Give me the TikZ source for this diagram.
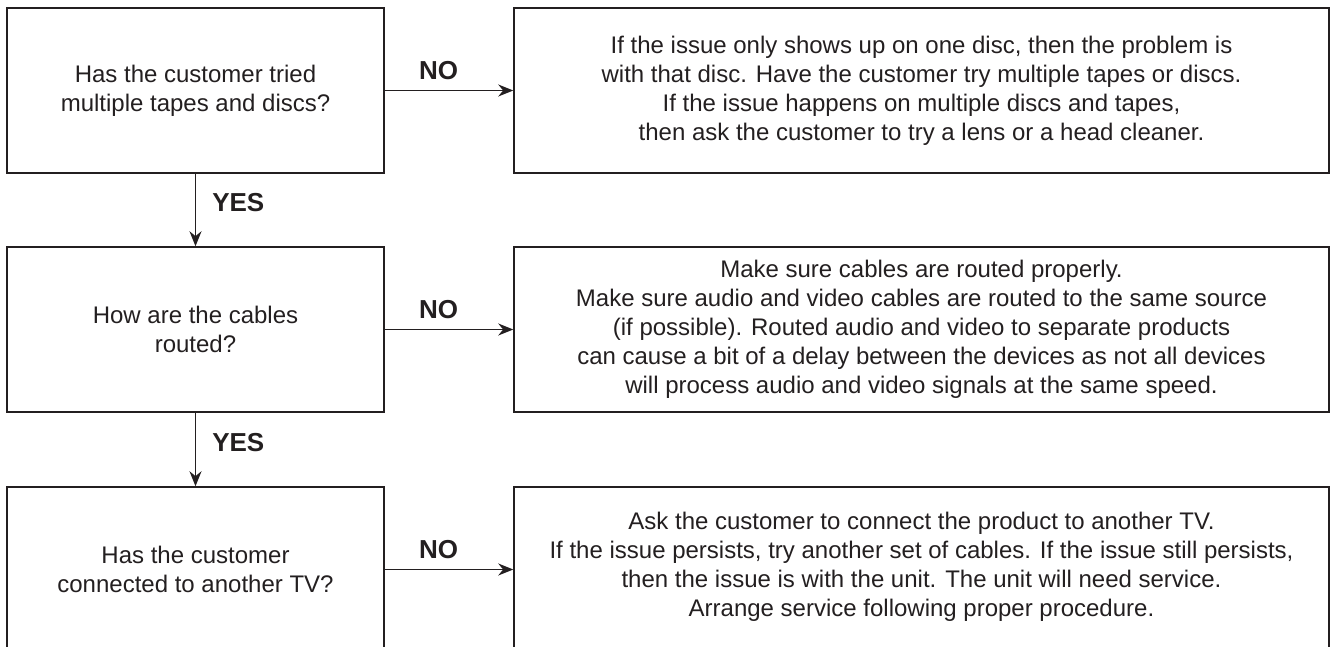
\documentclass[tikz,border=0pt]{standalone}
\usepackage{fontspec}
\setmainfont{Liberation Sans}
\usetikzlibrary{arrows.meta}
\definecolor{ink}{HTML}{231F20}

\begin{document}
\begin{tikzpicture}[x=0.5pt,y=-0.5pt,
	>={Stealth[length=7.5pt,width=6pt]},
	box/.style={draw=ink,line width=0.75pt,text=ink,align=center,minimum height=82.5pt,inner sep=0pt,font=\fontsize{12}{14.5}\selectfont},
	qbox/.style={box,minimum width=188.5pt},
	abox/.style={box,minimum width=407.5pt},
	lbl/.style={text=ink,inner sep=5pt,font=\fontsize{13}{15}\selectfont\bfseries},
	link/.style={->,draw=ink,line width=0.75pt}]

	\clip (0,0) rectangle (1330,647);

	% questions
	\node[qbox] (cust) at (195.5,90.5) {Has the customer tried\\multiple tapes and discs?};
	\node[qbox] (cabl) at (195.5,329.5) {How are the cables\\routed?};
	\node[qbox] (tv) at (195.5,569.5) {Has the customer\\connected to another TV?};

	% answers
	\node[abox] (disc) at (921.5,90.5) {If the issue only shows up on one disc, then the problem is\\with that disc. Have the customer try multiple tapes or discs.\\If the issue happens on multiple discs and tapes,\\then ask the customer to try a lens or a head cleaner.};
	\node[abox] (rout) at (921.5,329.5) {Make sure cables are routed properly.\\Make sure audio and video cables are routed to the same source\\(if possible). Routed audio and video to separate products\\can cause a bit of a delay between the devices as not all devices\\will process audio and video signals at the same speed.};
	\node[abox] (serv) at (921.5,569.5) {Ask the customer to connect the product to another TV.\\If the issue persists, try another set of cables. If the issue still persists,\\then the issue is with the unit. The unit will need service.\\Arrange service following proper procedure.\\[-9.5pt]};

	% NO
	\draw[link] (cust) -- node[lbl,above,pos=0.42]{NO} (disc);
	\draw[link] (cabl) -- node[lbl,above,pos=0.42]{NO} (rout);
	\draw[link] (tv) -- node[lbl,above,pos=0.42]{NO} (serv);

	% YES
	\draw[link] (cust) -- node[lbl,right,pos=0.4,xshift=3pt]{YES} (cabl);
	\draw[link] (cabl) -- node[lbl,right,pos=0.4,xshift=3pt]{YES} (tv);
\end{tikzpicture}
\end{document}
